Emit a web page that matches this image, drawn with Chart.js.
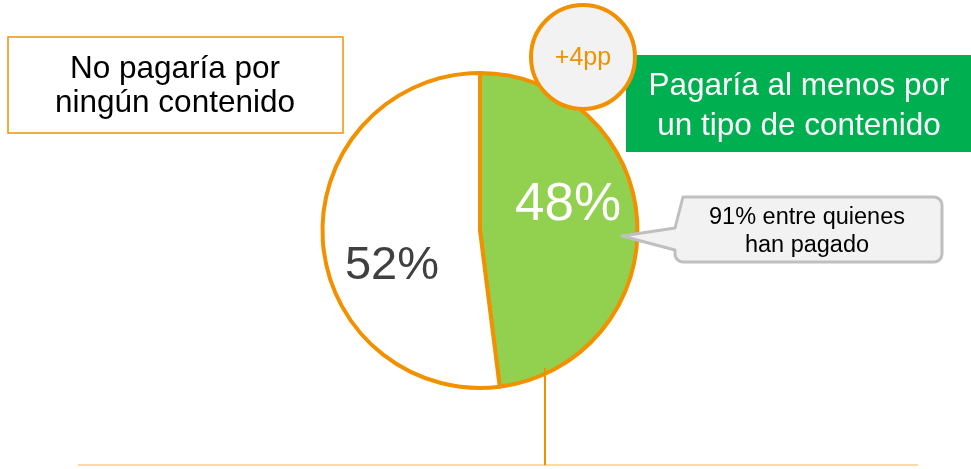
<!DOCTYPE html>
<html>
<head>
  <meta charset="UTF-8" />
  <title>Pago por contenido</title>
  <script src="https://cdn.jsdelivr.net/npm/chart.js"></script>
  <style>
    html, body { margin: 0; padding: 0; background: #fff; }
    #wrap { position: relative; width: 971px; height: 469px; }
  </style>
</head>
<body>
  <div id="wrap"><canvas id="pieChart" width="971" height="469"></canvas></div>

  <script>
    // data
    const categories = ['Pagaría al menos por un tipo de contenido', 'No pagaría por ningún contenido'];
    const shares = [48, 52];
    const sliceColors = ['#92d050', '#ffffff'];
    const labelColors = ['#ffffff', '#404040'];
    const labelSizes = [53, 47];
    const labelShift = [-20, 30];

    const ORANGE = '#f29100';
    const FONT = '"Liberation Sans", Arial, sans-serif';

    function roundRect(ctx, x, y, w, h, r) {
      ctx.moveTo(x + r, y);
      ctx.lineTo(x + w - r, y);
      ctx.arcTo(x + w, y, x + w, y + r, r);
      ctx.lineTo(x + w, y + h - r);
      ctx.arcTo(x + w, y + h, x + w - r, y + h, r);
      ctx.lineTo(x + r, y + h);
      ctx.arcTo(x, y + h, x, y + h - r, r);
    }

    const decorations = {
      id: 'decorations',
      beforeDatasetsDraw(chart) {
        const ctx = chart.ctx;
        ctx.save();
        // baseline rule
        ctx.strokeStyle = '#fdd9a3';
        ctx.lineWidth = 2;
        ctx.beginPath();
        ctx.moveTo(78, 465);
        ctx.lineTo(918, 465);
        ctx.stroke();
        ctx.restore();
      },
      afterDatasetsDraw(chart) {
        const ctx = chart.ctx;
        const arcs = chart.getDatasetMeta(0).data;
        ctx.save();

        // connector from slice down to baseline
        ctx.strokeStyle = ORANGE;
        ctx.lineWidth = 2;
        ctx.beginPath();
        ctx.moveTo(545, 368);
        ctx.lineTo(545, 465);
        ctx.stroke();

        ctx.textAlign = 'center';
        ctx.textBaseline = 'middle';

        // percentage labels
        arcs.forEach((arc, i) => {
          const p = arc.getProps(['x', 'y', 'startAngle', 'endAngle', 'outerRadius'], true);
          const mid = (p.startAngle + p.endAngle) / 2;
          const r = p.outerRadius * 0.56;
          ctx.fillStyle = labelColors[i];
          ctx.font = labelSizes[i] + 'px ' + FONT;
          ctx.fillText(shares[i] + '%', p.x + Math.cos(mid) * r, p.y + Math.sin(mid) * r + labelShift[i]);
        });

        // left label box
        ctx.fillStyle = '#ffffff';
        ctx.fillRect(8, 37, 335, 96);
        ctx.strokeStyle = ORANGE;
        ctx.lineWidth = 1.5;
        ctx.strokeRect(8, 37, 335, 96);
        ctx.fillStyle = '#000000';
        ctx.font = '31.5px ' + FONT;
        ctx.fillText('No pagaría por', 175, 69);
        ctx.fillText('ningún contenido', 175, 103);

        // green label box
        ctx.fillStyle = '#00b050';
        ctx.fillRect(626, 55, 345, 97);
        ctx.fillStyle = '#ffffff';
        ctx.font = '31.5px ' + FONT;
        ctx.fillText('Pagaría al menos por', 799, 86);
        ctx.fillText('un tipo de contenido', 799, 126);

        // +4pp bubble
        ctx.beginPath();
        ctx.arc(583, 57, 52, 0, Math.PI * 2);
        ctx.fillStyle = '#f2f2f2';
        ctx.fill();
        ctx.strokeStyle = ORANGE;
        ctx.lineWidth = 4;
        ctx.stroke();
        ctx.fillStyle = ORANGE;
        ctx.font = '25px ' + FONT;
        ctx.fillText('+4pp', 583, 58);

        // callout
        ctx.beginPath();
        roundRect(ctx, 675, 197, 267, 65, 8);
        ctx.lineTo(675, 250);
        ctx.lineTo(622, 236);
        ctx.lineTo(675, 228);
        ctx.closePath();
        ctx.fillStyle = '#f2f2f2';
        ctx.fill();
        ctx.strokeStyle = '#bfbfbf';
        ctx.lineWidth = 3;
        ctx.lineJoin = 'round';
        ctx.stroke();
        ctx.fillStyle = '#000000';
        ctx.font = '23.5px ' + FONT;
        ctx.fillText('91% entre quienes', 807, 218);
        ctx.fillText('han pagado', 807, 246);

        ctx.restore();
      }
    };

    new Chart(document.getElementById('pieChart').getContext('2d'), {
      type: 'pie',
      data: {
        labels: categories,
        datasets: [{
          data: shares,
          backgroundColor: sliceColors,
          borderColor: ORANGE,
          borderWidth: 4
        }]
      },
      options: {
        responsive: false,
        animation: false,
        layout: { padding: { top: 71, bottom: 79, left: 0, right: 11 } },
        plugins: {
          legend: { display: false },
          tooltip: { enabled: false }
        }
      },
      plugins: [decorations]
    });
  </script>
</body>
</html>
